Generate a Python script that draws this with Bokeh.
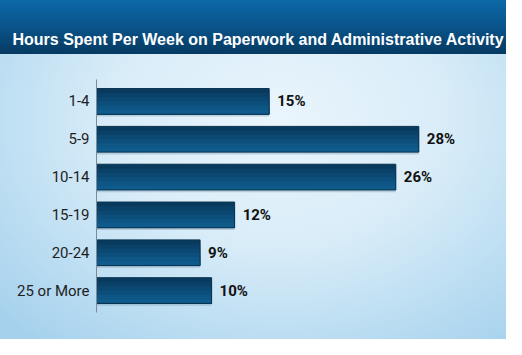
from bokeh.plotting import figure
from bokeh.models import ColumnDataSource, FactorRange, Range1d
from bokeh.transform import dodge
from bokeh.core.properties import value
from bokeh.embed import file_html
from bokeh.resources import INLINE

title_text = "Hours Spent Per Week on Paperwork and Administrative Activity"
categories = ["1-4", "5-9", "10-14", "15-19", "20-24", "25 or More"]
percents = [15, 28, 26, 12, 9, 10]
labels = [f"{v}%" for v in percents]

src = ColumnDataSource(dict(cat=categories, val=percents, lab=labels))

W, H = 506, 339
FL, FR, FT, FB = 96, 14, 79, 27
p = figure(width=W, height=H, output_backend="svg", toolbar_location=None,
           y_range=FactorRange(factors=list(reversed(categories)), range_padding=0.08,
                               range_padding_units="absolute"),
           x_range=Range1d(0, 34.4),
           min_border_left=FL, min_border_right=FR, min_border_top=FT, min_border_bottom=FB)

p.background_fill_alpha = 0
p.border_fill_alpha = 0
p.outline_line_color = None
p.styles = {
    "background": "linear-gradient(to bottom, #0c68a6 0px, #0a558c 26px, #063a61 54px) top left / 100% 54px no-repeat, "
                  "radial-gradient(ellipse 75% 85% at 55% 35%, #eaf5fc 0%, #d8ecf8 45%, #b3d9f0 85%, #a6d1ed 100%)"
}

p.title.text = title_text
p.title.align = "left"
p.title.offset = 12 - FL
p.title.vertical_align = "top"
p.title.standoff = 60
p.title.text_color = "white"
p.title.text_font = "Liberation Sans"
p.title.text_font_style = "bold"
p.title.text_font_size = "16px"

p.xgrid.visible = False
p.ygrid.visible = False
p.xaxis.visible = False

ax = p.yaxis[0]
ax.axis_line_color = "#7a8a96"
ax.major_tick_line_color = None
ax.minor_tick_line_color = None
ax.major_tick_out = 0
ax.major_label_standoff = 7
ax.major_label_text_font = "Roboto"
ax.major_label_text_font_size = "15px"
ax.major_label_text_color = "#1e1e1e"

BH = 0.68
# shadow
p.hbar(y=dodge("cat", -0.06, range=p.y_range), right="val", left=0, height=BH, source=src,
       fill_color="#6f8ea6", fill_alpha=0.35, line_color=None)
# bar with stepped vertical gradient (dark top -> lighter bottom)
shades = ["#083a5e", "#0a4168", "#0b4872", "#0d4f7c", "#0e5685", "#0f5b8c"]
n = len(shades)
for i, c in enumerate(shades):
    h = BH * (n - i) / n
    p.hbar(y=dodge("cat", -(BH - h) / 2, range=p.y_range), right="val", left=0, height=h,
           source=src, fill_color=c, line_color=None)
p.hbar(y="cat", right="val", left=0, height=BH, source=src,
       fill_color=None, line_color="#07324f", line_width=1)

p.text(x="val", y="cat", text="lab", source=src, x_offset=8,
       text_baseline="middle", text_align="left",
       text_font=value("Roboto"), text_font_style="bold",
       text_font_size="15px", text_color="#111111")

open("out.html", "w").write(file_html(p, INLINE))
